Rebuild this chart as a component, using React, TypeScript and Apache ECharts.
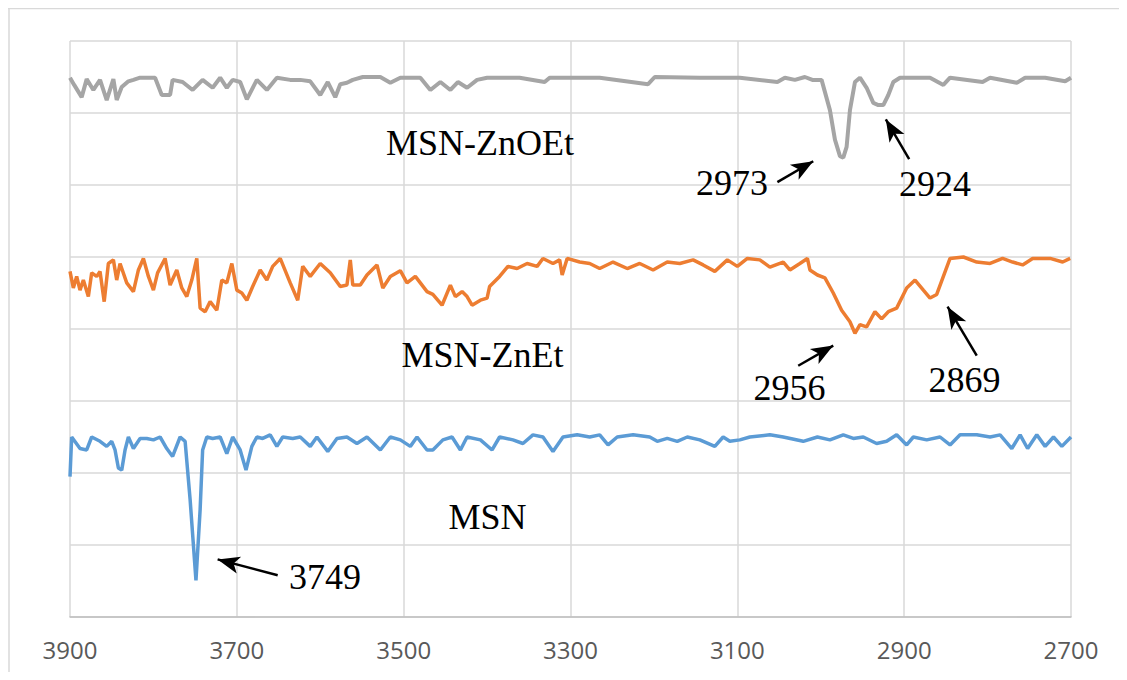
import React, { useEffect, useRef } from "react";
import * as echarts from "echarts";

// Wavenumber axis (cm-1), drawn reversed: 3900 on the left, 2700 on the right
const X_MIN = 2700;
const X_MAX = 3900;
const X_STEP = 200;
// Stacked (offset) transmittance axis, no labels
const Y_MIN = 0;
const Y_MAX = 8;
const Y_STEP = 1;

const SERIES_NAMES = ["MSN-ZnOEt", "MSN-ZnEt", "MSN"];

// [wavenumber, offset transmittance]
const MSN_ZNOET: [number, number][] = [
  [3900, 7.49], [3895, 7.39], [3886, 7.22], [3880, 7.47], [3872, 7.32], [3864, 7.46], [3856, 7.18],
  [3848, 7.47], [3844, 7.18], [3838, 7.36], [3830, 7.44], [3824, 7.46], [3816, 7.49], [3798, 7.49],
  [3790, 7.25], [3780, 7.25], [3777, 7.46], [3765, 7.43], [3753, 7.32], [3741, 7.46], [3729, 7.35],
  [3720, 7.49], [3712, 7.35], [3705, 7.46], [3696, 7.43], [3688, 7.19], [3676, 7.46], [3664, 7.32],
  [3652, 7.49], [3636, 7.46], [3624, 7.46], [3612, 7.44], [3600, 7.25], [3591, 7.43], [3582, 7.22],
  [3576, 7.4], [3568, 7.42], [3561, 7.46], [3549, 7.5], [3528, 7.5], [3516, 7.42], [3504, 7.49],
  [3480, 7.49], [3468, 7.32], [3456, 7.43], [3444, 7.32], [3435, 7.43], [3424, 7.35], [3412, 7.46],
  [3400, 7.49], [3361, 7.49], [3331, 7.43], [3325, 7.49], [3265, 7.49], [3207, 7.4], [3199, 7.5],
  [3145, 7.49], [3097, 7.49], [3052, 7.43], [3043, 7.49], [3031, 7.46], [3019, 7.5], [3010, 7.46],
  [2999, 7.46], [2989, 7.04], [2983, 6.63], [2977, 6.4], [2973, 6.38], [2969, 6.53], [2965, 7.04],
  [2959, 7.43], [2953, 7.49], [2945, 7.35], [2937, 7.14], [2931, 7.11], [2925, 7.11], [2919, 7.25],
  [2913, 7.43], [2905, 7.49], [2869, 7.49], [2853, 7.39], [2845, 7.49], [2806, 7.43], [2797, 7.49],
  [2765, 7.42], [2755, 7.49], [2731, 7.49], [2707, 7.44], [2700, 7.49],
];

const MSN_ZNET: [number, number][] = [
  [3900, 4.8], [3896, 4.57], [3892, 4.73], [3888, 4.54], [3884, 4.68], [3878, 4.45], [3874, 4.78],
  [3868, 4.73], [3864, 4.8], [3859, 4.38], [3854, 4.91], [3848, 4.96], [3844, 4.68], [3840, 4.91],
  [3832, 4.64], [3824, 4.52], [3818, 4.82], [3812, 4.98], [3806, 4.73], [3800, 4.54], [3795, 4.78],
  [3786, 4.98], [3780, 4.61], [3772, 4.82], [3766, 4.57], [3760, 4.45], [3754, 4.68], [3748, 4.98],
  [3744, 4.29], [3738, 4.24], [3732, 4.38], [3724, 4.26], [3718, 4.68], [3712, 4.64], [3706, 4.91],
  [3700, 4.54], [3694, 4.5], [3688, 4.4], [3681, 4.59], [3672, 4.82], [3664, 4.68], [3657, 4.87],
  [3648, 4.98], [3636, 4.64], [3627, 4.4], [3621, 4.87], [3612, 4.73], [3600, 4.91], [3588, 4.78],
  [3576, 4.59], [3568, 4.61], [3564, 4.96], [3561, 4.61], [3552, 4.61], [3544, 4.75], [3532, 4.89],
  [3525, 4.57], [3516, 4.73], [3504, 4.81], [3496, 4.64], [3486, 4.73], [3472, 4.52], [3465, 4.48],
  [3454, 4.33], [3444, 4.61], [3438, 4.45], [3430, 4.52], [3424, 4.45], [3418, 4.33], [3408, 4.4],
  [3400, 4.43], [3397, 4.59], [3385, 4.73], [3375, 4.87], [3364, 4.84], [3352, 4.91], [3340, 4.87],
  [3333, 4.98], [3321, 4.91], [3313, 4.96], [3310, 4.75], [3304, 4.98], [3289, 4.93], [3277, 4.91],
  [3265, 4.84], [3249, 4.93], [3232, 4.84], [3217, 4.91], [3201, 4.82], [3184, 4.93], [3169, 4.91],
  [3153, 4.96], [3141, 4.89], [3127, 4.8], [3112, 4.96], [3100, 4.87], [3088, 4.98], [3073, 4.96],
  [3061, 4.86], [3045, 4.93], [3037, 4.82], [3025, 4.91], [3016, 4.98], [3013, 4.82], [3004, 4.75],
  [2995, 4.71], [2985, 4.5], [2975, 4.26], [2965, 4.1], [2959, 3.94], [2953, 4.06], [2945, 4.03],
  [2935, 4.24], [2927, 4.14], [2919, 4.24], [2909, 4.29], [2897, 4.57], [2887, 4.68], [2877, 4.54],
  [2869, 4.43], [2861, 4.48], [2853, 4.73], [2845, 4.98], [2829, 5.0], [2813, 4.93], [2797, 4.91],
  [2782, 4.98], [2770, 4.93], [2758, 4.89], [2746, 4.98], [2725, 4.98], [2710, 4.93], [2701, 4.98],
];

const MSN_DATA: [number, number][] = [
  [3900, 1.95], [3898, 2.5], [3888, 2.34], [3880, 2.32], [3874, 2.5], [3864, 2.44], [3856, 2.37],
  [3850, 2.44], [3846, 2.32], [3842, 2.07], [3838, 2.04], [3834, 2.32], [3830, 2.5], [3824, 2.34],
  [3816, 2.48], [3808, 2.48], [3800, 2.46], [3792, 2.5], [3784, 2.34], [3777, 2.23], [3768, 2.5],
  [3762, 2.44], [3756, 1.63], [3749, 0.51], [3744, 1.49], [3741, 2.32], [3736, 2.5], [3729, 2.48],
  [3720, 2.5], [3712, 2.27], [3705, 2.5], [3696, 2.32], [3689, 2.04], [3682, 2.37], [3676, 2.5],
  [3669, 2.48], [3660, 2.53], [3652, 2.37], [3645, 2.5], [3633, 2.48], [3624, 2.5], [3612, 2.37],
  [3604, 2.5], [3591, 2.3], [3580, 2.48], [3568, 2.5], [3556, 2.41], [3544, 2.5], [3528, 2.32],
  [3516, 2.5], [3504, 2.46], [3492, 2.37], [3484, 2.5], [3472, 2.32], [3465, 2.32], [3453, 2.46],
  [3442, 2.5], [3432, 2.32], [3424, 2.5], [3408, 2.46], [3394, 2.32], [3385, 2.5], [3369, 2.46],
  [3357, 2.41], [3345, 2.53], [3333, 2.5], [3321, 2.3], [3309, 2.5], [3292, 2.53], [3277, 2.5],
  [3265, 2.53], [3255, 2.39], [3244, 2.5], [3225, 2.53], [3205, 2.5], [3196, 2.44], [3184, 2.48],
  [3172, 2.44], [3160, 2.5], [3145, 2.46], [3127, 2.37], [3117, 2.5], [3109, 2.44], [3097, 2.46],
  [3085, 2.5], [3061, 2.53], [3045, 2.5], [3021, 2.44], [3004, 2.5], [2989, 2.46], [2973, 2.53],
  [2961, 2.48], [2949, 2.5], [2933, 2.41], [2921, 2.44], [2909, 2.53], [2897, 2.39], [2889, 2.5],
  [2873, 2.46], [2857, 2.5], [2845, 2.39], [2833, 2.53], [2813, 2.53], [2797, 2.5], [2785, 2.53],
  [2771, 2.34], [2761, 2.53], [2752, 2.34], [2741, 2.53], [2731, 2.37], [2721, 2.5], [2711, 2.37],
  [2700, 2.5],
];

// Peak annotations: arrow tail -> arrow head, in data coordinates
const ARROWS_ZNOET: [number, number][][] = [
  [[3052, 6.04], [3009, 6.33]],
  [[2894, 6.36], [2922, 6.91]],
];
const ARROWS_ZNET: [number, number][][] = [
  [[3027, 3.49], [2985, 3.77]],
  [[2813, 3.63], [2848, 4.31]],
];
const ARROWS_MSN: [number, number][][] = [
  [[3651, 0.58], [3723, 0.8]],
];

const TEXTS = ["MSN-ZnOEt", "2973", "2924", "MSN-ZnEt", "2956", "2869", "MSN", "3749"];

export default function App() {
  const ref = useRef<HTMLDivElement>(null);

  useEffect(() => {
    if (!ref.current) return;
    const chart = echarts.init(ref.current, undefined, { renderer: "svg" });

    const arrowLine = (arrows: [number, number][][]) => ({
      silent: true,
      symbol: ["none", "arrow"],
      symbolSize: [13, 22],
      lineStyle: { color: "#000", width: 2.5, type: "solid", opacity: 1 },
      itemStyle: { color: "#000" },
      label: { show: false },
      emphasis: { disabled: true },
      animation: false,
      data: arrows.map(([a, b]) => [{ coord: a }, { coord: b }]),
    });

    const textPos: [number, number][] = [
      [472, 134.5],
      [724, 174.5],
      [927, 175.5],
      [474.5, 346.5],
      [781.5, 379.5],
      [956.5, 372],
      [479.5, 509],
      [317, 568.5],
    ];

    const option: any = {
      animation: false,
      backgroundColor: "#ffffff",
      grid: { left: 62, right: 56, top: 33, bottom: 55, containLabel: false },
      xAxis: {
        type: "value",
        min: X_MIN,
        max: X_MAX,
        interval: X_STEP,
        inverse: true,
        axisLine: { show: true, lineStyle: { color: "#bfbfbf", width: 1.5 } },
        axisTick: { show: false },
        splitLine: { show: true, lineStyle: { color: "#d9d9d9", width: 1.5 } },
        axisLabel: {
          color: "#595959",
          fontFamily: "Open Sans",
          fontSize: 24,
          margin: 20,
          formatter: (v: number) => String(v),
        },
      },
      yAxis: {
        type: "value",
        min: Y_MIN,
        max: Y_MAX,
        interval: Y_STEP,
        axisLine: { show: false },
        axisTick: { show: false },
        axisLabel: { show: false },
        splitLine: { show: true, lineStyle: { color: "#d9d9d9", width: 1.5 } },
      },
      series: [
        {
          name: SERIES_NAMES[0],
          type: "line",
          data: MSN_ZNOET,
          showSymbol: false,
          symbol: "none",
          lineStyle: { color: "#a5a5a5", width: 4 },
          itemStyle: { color: "#a5a5a5" },
          markLine: arrowLine(ARROWS_ZNOET),
          z: 3,
        },
        {
          name: SERIES_NAMES[1],
          type: "line",
          data: MSN_ZNET,
          showSymbol: false,
          symbol: "none",
          lineStyle: { color: "#ed7d31", width: 3.5 },
          itemStyle: { color: "#ed7d31" },
          markLine: arrowLine(ARROWS_ZNET),
          z: 3,
        },
        {
          name: SERIES_NAMES[2],
          type: "line",
          data: MSN_DATA,
          showSymbol: false,
          symbol: "none",
          lineStyle: { color: "#5b9bd5", width: 3.5 },
          itemStyle: { color: "#5b9bd5" },
          markLine: arrowLine(ARROWS_MSN),
          z: 3,
        },
      ],
      graphic: [
        {
          type: "rect",
          shape: { x: 1100, y: 2, width: 40, height: 700 },
          style: { fill: "#ffffff", stroke: "none" },
          silent: true,
          z: 50,
        },
        {
          type: "line",
          shape: { x1: 0, y1: 0.5, x2: 1119, y2: 0.5 },
          style: { stroke: "#d9d9d9", lineWidth: 1.5 },
          silent: true,
          z: 60,
        },
        {
          type: "line",
          shape: { x1: 1, y1: 0, x2: 1, y2: 664 },
          style: { stroke: "#d9d9d9", lineWidth: 1.5 },
          silent: true,
          z: 60,
        },
        ...TEXTS.map((t, i) => ({
          type: "text",
          x: textPos[i][0],
          y: textPos[i][1],
          silent: true,
          z: 100,
          style: {
            text: t,
            fill: "#000",
            font: '36px "Liberation Serif", "Times New Roman", serif',
            align: "center",
            verticalAlign: "middle",
          },
        })),
      ],
    };

    chart.setOption(option);
    return () => chart.dispose();
  }, []);

  return <div ref={ref} style={{ width: 1119, height: 664 }} />;
}
